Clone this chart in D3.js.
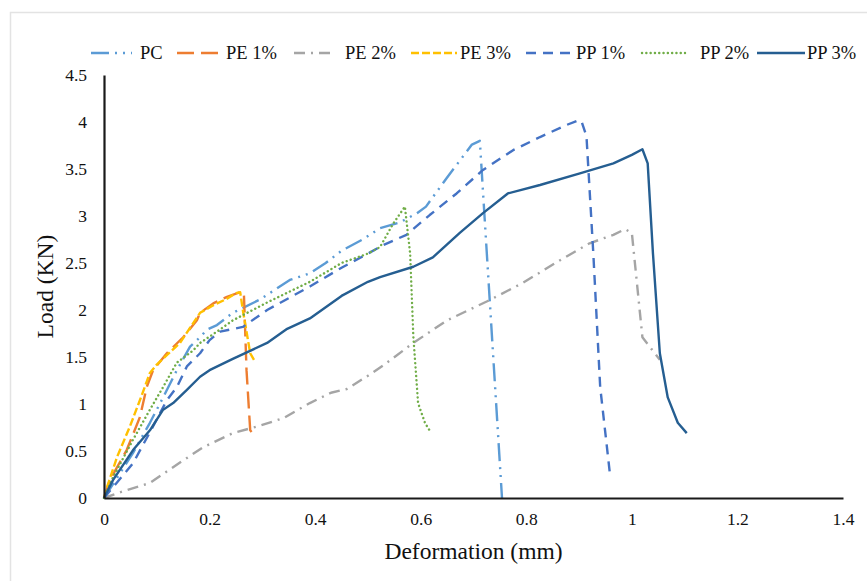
<!DOCTYPE html>
<html>
<head>
<meta charset="utf-8">
<script src="https://cdn.jsdelivr.net/npm/d3@7"></script>
<style>
  body { margin: 0; background: #fff; }
  svg { display: block; }
  svg text { font-family: "Liberation Serif", "Times New Roman", serif !important; }
</style>
</head>
<body>
<div id="chart"></div>
<script>
// load vs deformation: [deformation (mm), load (KN)]
var pc = [[0,0],[0.03,0.26],[0.055,0.48],[0.087,0.8],[0.112,1.07],[0.138,1.36],[0.163,1.61],[0.182,1.71],[0.195,1.79],[0.214,1.84],[0.244,1.97],[0.295,2.11],[0.352,2.32],[0.39,2.39],[0.42,2.5],[0.45,2.63],[0.49,2.75],[0.523,2.87],[0.56,2.93],[0.593,3.03],[0.61,3.1],[0.65,3.41],[0.697,3.76],[0.712,3.8],[0.754,0]];
var pe1 = [[0,0],[0.011,0.19],[0.043,0.51],[0.068,0.86],[0.081,1.18],[0.093,1.36],[0.119,1.54],[0.15,1.71],[0.176,1.89],[0.182,1.97],[0.207,2.07],[0.233,2.14],[0.258,2.19],[0.265,2.18],[0.27,1.36],[0.277,0.72],[0.28,0.7]];
var pe2 = [[0,0],[0.03,0.06],[0.087,0.16],[0.15,0.4],[0.188,0.54],[0.244,0.69],[0.29,0.76],[0.34,0.85],[0.39,1.01],[0.43,1.12],[0.46,1.16],[0.5,1.3],[0.529,1.41],[0.586,1.65],[0.65,1.89],[0.725,2.09],[0.794,2.29],[0.864,2.53],[0.92,2.71],[0.965,2.8],[0.987,2.86],[1.0,2.82],[1.02,1.71],[1.053,1.47]];
var pe3 = [[0,0],[0.006,0.12],[0.025,0.44],[0.049,0.76],[0.068,1.04],[0.087,1.33],[0.1,1.42],[0.119,1.52],[0.144,1.65],[0.169,1.86],[0.182,1.97],[0.207,2.05],[0.233,2.12],[0.25,2.18],[0.258,2.19],[0.263,2.0],[0.277,1.54],[0.286,1.45]];
var pp1 = [[0,0],[0.055,0.37],[0.087,0.7],[0.119,1.04],[0.138,1.18],[0.157,1.4],[0.182,1.54],[0.2,1.68],[0.22,1.77],[0.263,1.82],[0.309,2.0],[0.39,2.25],[0.45,2.45],[0.5,2.6],[0.529,2.69],[0.573,2.8],[0.617,3.01],[0.668,3.24],[0.718,3.49],[0.775,3.7],[0.826,3.84],[0.877,3.97],[0.9,4.02],[0.905,4.0],[0.914,3.85],[0.927,2.6],[0.94,1.18],[0.958,0.28]];
var pp2 = [[0,0],[0.017,0.22],[0.055,0.62],[0.087,0.94],[0.112,1.18],[0.138,1.44],[0.169,1.57],[0.182,1.65],[0.214,1.77],[0.244,1.89],[0.309,2.08],[0.39,2.3],[0.45,2.5],[0.5,2.6],[0.523,2.67],[0.548,2.92],[0.57,3.1],[0.58,2.6],[0.586,1.72],[0.595,1.01],[0.608,0.8],[0.62,0.69]];
var pp3 = [[0,0],[0.017,0.19],[0.055,0.51],[0.087,0.72],[0.112,0.94],[0.131,1.01],[0.157,1.15],[0.182,1.29],[0.2,1.36],[0.244,1.48],[0.309,1.65],[0.347,1.8],[0.39,1.91],[0.45,2.15],[0.5,2.3],[0.523,2.35],[0.586,2.46],[0.623,2.56],[0.674,2.82],[0.718,3.03],[0.765,3.24],[0.826,3.33],[0.9,3.45],[0.965,3.56],[1.0,3.65],[1.02,3.71],[1.03,3.56],[1.04,2.6],[1.053,1.54],[1.068,1.07],[1.087,0.8],[1.104,0.69]];

var seriesNames = ["PC", "PE 1%", "PE 2%", "PE 3%", "PP 1%", "PP 2%", "PP 3%"];
var xTicks = [0, 0.2, 0.4, 0.6, 0.8, 1, 1.2, 1.4];
var yTicks = [0, 0.5, 1, 1.5, 2, 2.5, 3, 3.5, 4, 4.5];

var series = [
  { name: seriesNames[0], data: pc,  color: "#5b9bd5", dash: "18,6,2,6,2,6", cap: "butt" },
  { name: seriesNames[1], data: pe1, color: "#ed7d31", dash: "17,7", cap: "butt" },
  { name: seriesNames[2], data: pe2, color: "#a5a5a5", dash: "11,6,2,6", cap: "butt" },
  { name: seriesNames[3], data: pe3, color: "#ffc000", dash: "8,3", cap: "butt" },
  { name: seriesNames[4], data: pp1, color: "#4472c4", dash: "10,7", cap: "butt" },
  { name: seriesNames[5], data: pp2, color: "#70ad47", dash: "0.1,4.2", cap: "round" },
  { name: seriesNames[6], data: pp3, color: "#255e91", dash: null, cap: "butt" }
];

var W = 867, H = 581;
var m = { left: 104, right: 24, top: 75, bottom: 83 };
var font = "'Liberation Serif', 'Times New Roman', serif";

var svg = d3.select("#chart").append("svg")
  .attr("width", W).attr("height", H)
  .attr("font-family", font);

// light frame of the pasted figure
svg.append("path")
  .attr("d", "M10.5," + H + "V12.5H" + W)
  .attr("fill", "none").attr("stroke", "#e3e3e3").attr("stroke-width", 1.5);

var x = d3.scaleLinear().domain([0, 1.4]).range([m.left, W - m.right]);
var y = d3.scaleLinear().domain([0, 4.5]).range([H - m.bottom, m.top]);

var line = d3.line().x(function(d) { return x(d[0]); }).y(function(d) { return y(d[1]); });

var g = svg.append("g");
series.forEach(function(s) {
  g.append("path")
    .datum(s.data)
    .attr("d", line)
    .attr("fill", "none")
    .attr("stroke", s.color)
    .attr("stroke-width", 2.4)
    .attr("stroke-linejoin", "round")
    .attr("stroke-linecap", s.cap)
    .attr("stroke-dasharray", s.dash);
});

// axes
var xAxis = svg.append("g")
  .attr("transform", "translate(0," + y(0) + ")")
  .call(d3.axisBottom(x).tickValues(xTicks).tickSize(0).tickPadding(15).tickFormat(d3.format("")));
var yAxis = svg.append("g")
  .attr("transform", "translate(" + x(0) + ",0)")
  .call(d3.axisLeft(y).tickValues(yTicks).tickSize(0).tickPadding(17).tickFormat(d3.format("")));

[xAxis, yAxis].forEach(function(a) {
  a.attr("font-family", font).attr("font-size", 17.5);
  a.select(".domain").attr("stroke", "#1a1a1a").attr("stroke-width", 2.2);
  a.selectAll("text").attr("fill", "#111");
});

svg.append("text")
  .attr("x", (x(0) + x(1.4)) / 2)
  .attr("y", 559)
  .attr("text-anchor", "middle")
  .attr("font-size", 23.5)
  .attr("fill", "#111")
  .text("Deformation (mm)");

svg.append("text")
  .attr("transform", "translate(53," + ((y(0) + y(4.5)) / 2) + ") rotate(-90)")
  .attr("text-anchor", "middle")
  .attr("font-size", 23.5)
  .attr("fill", "#111")
  .text("Load (KN)");

// legend
var legendX = [91, 177, 294, 411, 526, 642, 757];
var legendW = [41, 48, 36, 46, 49, 43, 48];
var legendT = [140, 226, 345, 460, 576, 700, 807];
var leg = svg.append("g").attr("transform", "translate(0,53)");
series.forEach(function(s, i) {
  leg.append("line")
    .attr("x1", legendX[i]).attr("x2", legendX[i] + legendW[i])
    .attr("y1", 0).attr("y2", 0)
    .attr("stroke", s.color)
    .attr("stroke-width", 2.4)
    .attr("stroke-linecap", s.cap)
    .attr("stroke-dasharray", s.dash);
  leg.append("text")
    .attr("x", legendT[i]).attr("y", 6)
    .attr("font-size", 18.5)
    .attr("fill", "#111")
    .text(s.name);
});
</script>
</body>
</html>
